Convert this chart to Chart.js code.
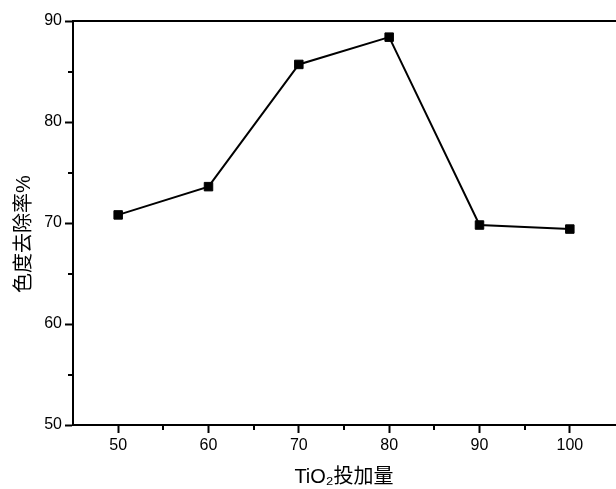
<!DOCTYPE html>
<html>
<head>
<meta charset="utf-8">
<script src="https://cdn.jsdelivr.net/npm/chart.js@4"></script>
<style>
  html, body { margin: 0; padding: 0; background: #fff; overflow: hidden; }
  #Chart1 { display: block; }
</style>
</head>
<body>
<canvas id="Chart1" width="622" height="489"></canvas>
<script>
// dosage of TiO2 vs colour removal rate
const dosage = [50, 60, 70, 80, 90, 100];
const removal = [70.8, 73.6, 85.7, 88.4, 69.8, 69.4];
const x_ticks = [50, 60, 70, 80, 90, 100];
const y_ticks = [50, 60, 70, 80, 90];

const font_family = '"Liberation Sans", Arial, "Noto Sans CJK SC", sans-serif';

// minor ticks + top frame line
const minor_ticks = {
    id: 'minor_ticks',
    afterDraw(chart) {
        let ctx = chart.ctx;
        let area = chart.chartArea;
        let xs = chart.scales.x, ys = chart.scales.y;
        ctx.save();
        ctx.strokeStyle = '#000';
        ctx.lineWidth = 2;
        for (let v = 55; v < 105; v += 10) {
            let px = Math.round(xs.getPixelForValue(v));
            ctx.beginPath();
            ctx.moveTo(px, area.bottom);
            ctx.lineTo(px, area.bottom + 5);
            ctx.stroke();
        }
        for (let v = 55; v < 90; v += 10) {
            let py = Math.round(ys.getPixelForValue(v));
            ctx.beginPath();
            ctx.moveTo(area.left, py);
            ctx.lineTo(area.left - 5, py);
            ctx.stroke();
        }
        ctx.beginPath();
        ctx.moveTo(area.left, area.top);
        ctx.lineTo(area.right + 2, area.top);
        ctx.stroke();
        ctx.restore();
    }
};

let data = {
    datasets: [{
        data: dosage.map((d, i) => ({x: d, y: removal[i]})),
        borderColor: '#000',
        backgroundColor: '#000',
        borderWidth: 2,
        pointStyle: 'rect',
        pointRadius: 6,
        pointBorderWidth: 1,
        pointBorderColor: '#000',
        pointBackgroundColor: '#000',
        tension: 0
    }]
};

let config = {
    type: 'line',
    data: data,
    options: {
        responsive: false,
        animation: false,
        layout: { padding: { top: 21, right: 1, left: 0, bottom: 0 } },
        plugins: { legend: { display: false }, tooltip: { enabled: false } },
        scales: {
            x: {
                type: 'linear',
                min: 45,
                max: 105,
                afterBuildTicks: s => { s.ticks = x_ticks.map(v => ({value: v})); },
                afterFit: s => { s.height = 64; s.paddingLeft = 0; s.paddingRight = 0; },
                grid: { drawOnChartArea: false, drawTicks: true, tickLength: 8, tickWidth: 2, tickColor: '#000' },
                border: { display: true, color: '#000', width: 2 },
                ticks: { color: '#000', padding: 3, font: { family: font_family, size: 16 }, maxRotation: 0 },
                title: {
                    display: true,
                    text: 'TiO\u2082投加量',
                    color: '#000',
                    font: { family: font_family, size: 20 },
                    padding: { top: 0, bottom: 0 }
                }
            },
            y: {
                type: 'linear',
                min: 50,
                max: 90,
                afterBuildTicks: s => { s.ticks = y_ticks.map(v => ({value: v})); },
                afterFit: s => { s.width = 73; s.paddingTop = 0; s.paddingBottom = 0; },
                grid: { drawOnChartArea: false, drawTicks: true, tickLength: 8, tickWidth: 2, tickColor: '#000' },
                border: { display: true, color: '#000', width: 2 },
                ticks: { color: '#000', padding: 3, font: { family: font_family, size: 16 } },
                title: {
                    display: true,
                    text: '色度去除率%    ',
                    color: '#000',
                    font: { family: font_family, size: 20 },
                    padding: { top: 12, bottom: 0 }
                }
            }
        }
    },
    plugins: [minor_ticks]
};

new Chart(document.getElementById('Chart1'), config);
</script>
</body>
</html>
